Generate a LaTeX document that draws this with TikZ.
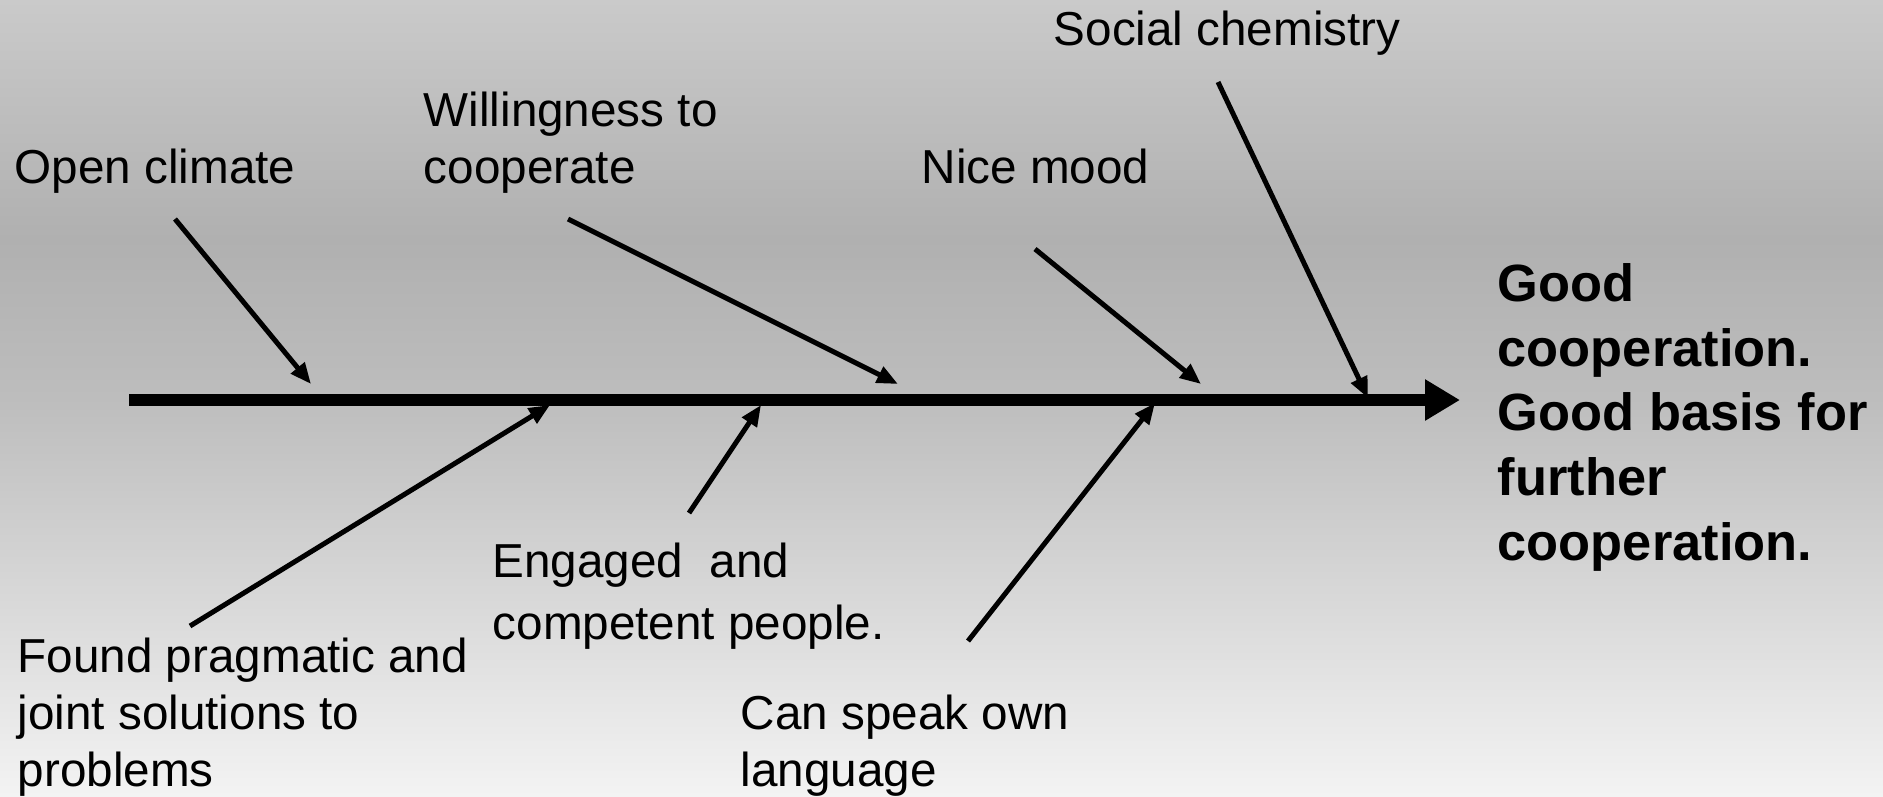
\documentclass[tikz,border=0pt]{standalone}
\usepackage{fontspec}
\setmainfont{Liberation Sans}
\usepackage{tikz}
\usetikzlibrary{arrows.meta}
\usepackage{xcolor}

\definecolor{bgtop}{HTML}{CACACA}
\definecolor{bgdark}{HTML}{B0B0B0}
\definecolor{bglow}{HTML}{BDBDBD}
\definecolor{bgbot}{HTML}{F3F3F3}
\pgfdeclareverticalshading{slidebg}{100bp}{color(0bp)=(bgbot); color(25bp)=(bgbot); color(50bp)=(bglow); color(60bp)=(bgdark); color(75bp)=(bgtop); color(100bp)=(bgtop)}

\begin{document}
\begin{tikzpicture}[x=0.01cm, y=-0.01cm,
    lbl/.style={anchor=base west, inner sep=0pt, align=left, font=\fontsize{13.55pt}{#1}\selectfont},
    lbl/.default={16.2pt},
    goal/.style={anchor=base west, inner sep=0pt, align=left, font=\fontsize{14.9pt}{18.35pt}\selectfont\bfseries},
    cause/.style={line width=0.05cm, -{Triangle[length=0.21cm,width=0.17cm]}},
    spine/.style={line width=0.12cm, -{Triangle[length=0.35cm,width=0.39cm]}}]
    \shade[shading=slidebg] (0, 0) rectangle (1883, 796);

    % labels, placed at the baseline of their last line
    \node[lbl] (social) at (1053, 45) {Social chemistry};
    \node[lbl] (willing) at (423, 183) {Willingness to\\cooperate};
    \node[lbl] (open) at (14, 183) {Open climate};
    \node[lbl] (nice) at (921, 183) {Nice mood};
    \node[goal] (good) at (1497, 560) {Good\\cooperation.\\Good basis for\\further\\cooperation.};
    \node[lbl=17.4pt] (engaged) at (492, 639) {Engaged\ \ and\\competent people.};
    \node[lbl] (found) at (17, 786) {Found pragmatic and\\joint solutions to\\problems};
    \node[lbl] (speak) at (740, 786) {Can speak own\\language};

    \coordinate (tail) at (129, 400);
    \coordinate (head) at (1460, 400);
    \coordinate (open_s) at (175, 219);
    \coordinate (open_e) at (311, 384);
    \coordinate (willing_s) at (568, 219);
    \coordinate (willing_e) at (898, 384);
    \coordinate (nice_s) at (1035, 249);
    \coordinate (nice_e) at (1201, 384);
    \coordinate (social_s) at (1218, 82);
    \coordinate (social_e) at (1368, 398);
    \coordinate (found_s) at (190, 626);
    \coordinate (found_e) at (550, 405);
    \coordinate (engaged_s) at (689, 513);
    \coordinate (engaged_e) at (761, 405);
    \coordinate (speak_s) at (968, 641);
    \coordinate (speak_e) at (1155, 403);

    \draw[spine] (tail) -- (head);
    \draw[cause] (open_s) -- (open_e);
    \draw[cause] (willing_s) -- (willing_e);
    \draw[cause] (nice_s) -- (nice_e);
    \draw[cause] (social_s) -- (social_e);
    \draw[cause] (found_s) -- (found_e);
    \draw[cause] (engaged_s) -- (engaged_e);
    \draw[cause] (speak_s) -- (speak_e);

\end{tikzpicture}
\end{document}
